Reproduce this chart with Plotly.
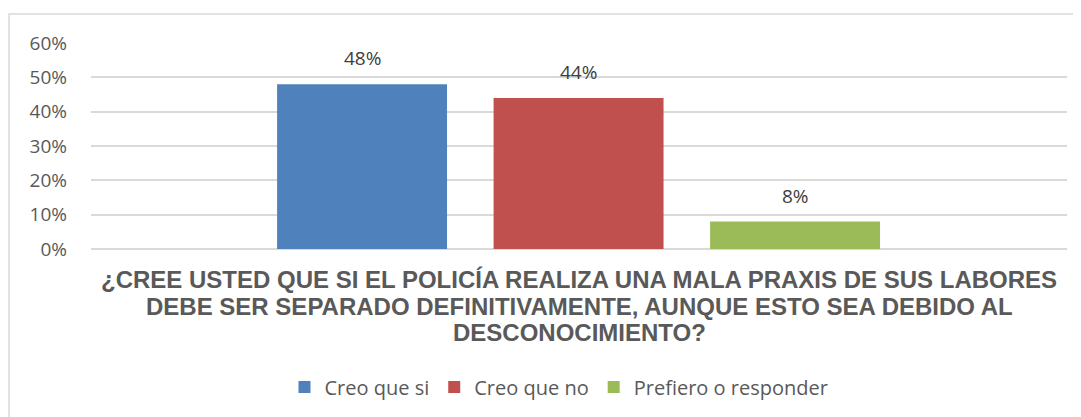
import plotly.graph_objects as go

series_names = ["Creo que si", "Creo que no", "Prefiero o responder"]
series_values = [0.48, 0.44, 0.08]
series_colors = ["#4f81bd", "#c0504d", "#9bbb59"]
y_ticks = [0, 0.1, 0.2, 0.3, 0.4, 0.5, 0.6]
y_tick_labels = ["0%", "10%", "20%", "30%", "40%", "50%", "60%"]
title_lines = [
    "¿CREE USTED QUE SI EL POLICÍA REALIZA UNA MALA PRAXIS DE SUS LABORES",
    "DEBE SER SEPARADO DEFINITIVAMENTE, AUNQUE ESTO SEA DEBIDO AL",
    "DESCONOCIMIENTO?",
]

# page body has an 8px margin; figure coordinates are offset accordingly
OFF = 8
W, H = 1081 - OFF, 417 - OFF
L, T = 91 - OFF, 43 - OFF
R = W - (1067 - OFF)
B = H - (249 - OFF)
plot_h = H - T - B

fig = go.Figure()
for name, val, col in zip(series_names, series_values, series_colors):
    fig.add_trace(go.Bar(
        x=[name], y=[val], name=name, width=0.785,
        marker=dict(color=col, line=dict(width=0)),
    ))

annotations = []
for name, val in zip(series_names, series_values):
    annotations.append(dict(
        text=f"{round(val*100)}%", x=name, y=val, xref="x", yref="y",
        xanchor="center", yanchor="bottom", yshift=11, showarrow=False,
        font=dict(family="Open Sans", size=19, color="#404040"),
    ))

line_centers_px = [279, 306, 332]
for txt, cy in zip(title_lines, line_centers_px):
    annotations.append(dict(
        text="<b>" + txt + "</b>", xref="paper", yref="paper", x=0.5,
        y=(H - B - (cy - OFF)) / plot_h, xanchor="center", yanchor="middle",
        showarrow=False,
        font=dict(family="Liberation Sans", size=24, color="#595959"),
    ))

fig.update_layout(
    width=W, height=H,
    margin=dict(l=L, r=R, t=T, b=B, autoexpand=False),
    paper_bgcolor="white", plot_bgcolor="white",
    barmode="overlay",
    showlegend=True,
    legend=dict(orientation="h", x=0.4795, xanchor="center",
                y=(H - B - (387 - OFF)) / plot_h, yanchor="middle",
                font=dict(family="Open Sans", size=20, color="#595959"),
                traceorder="normal", itemwidth=30),
    xaxis=dict(type="category", categoryorder="array", categoryarray=series_names,
               range=[-1.252, 3.256], showticklabels=False, showgrid=False,
               zeroline=False, showline=False, ticks=""),
    yaxis=dict(range=[0, 0.6], tickvals=y_ticks, ticktext=y_tick_labels,
               showgrid=True, gridcolor="#d9d9d9", gridwidth=1.5,
               zeroline=True, zerolinecolor="#d9d9d9", zerolinewidth=1.5,
               tickfont=dict(family="Open Sans", size=19, color="#595959"),
               ticks="", ticklabelstandoff=23),
    annotations=annotations,
    shapes=[dict(type="rect", xref="paper", yref="paper",
                 x0=(9 - 91) / (W - L - R), x1=1.2,
                 y0=-1.5, y1=(249 - 14) / plot_h,
                 line=dict(color="#d9d9d9", width=1.5),
                 fillcolor="rgba(0,0,0,0)", layer="below")],
)

fig.write_html("out.html")
